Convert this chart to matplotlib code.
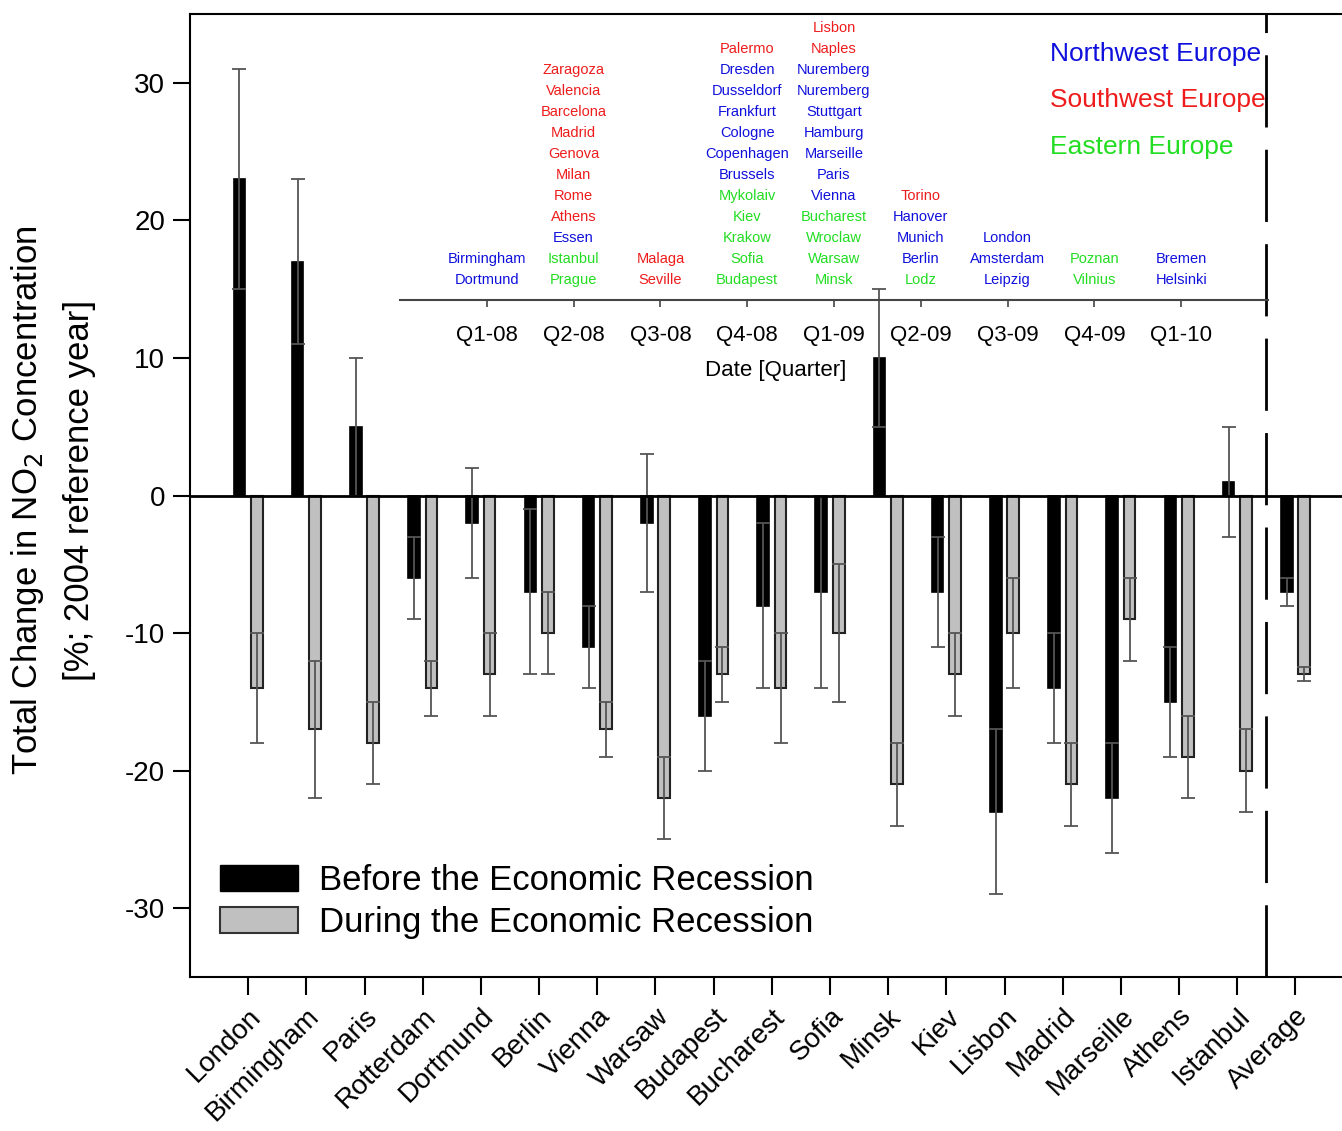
import numpy as np
import matplotlib.pyplot as plt
from matplotlib.patches import Patch

plt.rcParams['font.family'] = ['Liberation Sans', 'DejaVu Sans']
plt.rcParams['axes.unicode_minus'] = False

# === Data ===
cities = ["London", "Birmingham", "Paris", "Rotterdam", "Dortmund", "Berlin", "Vienna",
          "Warsaw", "Budapest", "Bucharest", "Sofia", "Minsk", "Kiev", "Lisbon", "Madrid",
          "Marseille", "Athens", "Istanbul", "Average"]
before = [23, 17, 5, -6, -2, -7, -11, -2, -16, -8, -7, 10, -7, -23, -14, -22, -15, 1, -7]
before_err = [8, 6, 5, 3, 4, 6, 3, 5, 4, 6, 7, 5, 4, 6, 4, 4, 4, 4, 1]
during = [-14, -17, -18, -14, -13, -10, -17, -22, -13, -14, -10, -21, -13, -10, -21, -9, -19, -20, -13]
during_err = [4, 5, 3, 2, 3, 3, 2, 3, 2, 4, 5, 3, 3, 4, 3, 3, 3, 3, 0.5]

quarters = ["Q1-08", "Q2-08", "Q3-08", "Q4-08", "Q1-09", "Q2-09", "Q3-09", "Q4-09", "Q1-10"]
# cities listed top to bottom, with region code: n = northwest, s = southwest, e = eastern
quarter_cities = [
    [("Birmingham", "n"), ("Dortmund", "n")],
    [("Zaragoza", "s"), ("Valencia", "s"), ("Barcelona", "s"), ("Madrid", "s"), ("Genova", "s"),
     ("Milan", "s"), ("Rome", "s"), ("Athens", "s"), ("Essen", "n"), ("Istanbul", "e"), ("Prague", "e")],
    [("Malaga", "s"), ("Seville", "s")],
    [("Palermo", "s"), ("Dresden", "n"), ("Dusseldorf", "n"), ("Frankfurt", "n"), ("Cologne", "n"),
     ("Copenhagen", "n"), ("Brussels", "n"), ("Mykolaiv", "e"), ("Kiev", "e"), ("Krakow", "e"),
     ("Sofia", "e"), ("Budapest", "e")],
    [("Lisbon", "s"), ("Naples", "s"), ("Nuremberg", "n"), ("Nuremberg", "n"), ("Stuttgart", "n"),
     ("Hamburg", "n"), ("Marseille", "n"), ("Paris", "n"), ("Vienna", "n"), ("Bucharest", "e"),
     ("Wroclaw", "e"), ("Warsaw", "e"), ("Minsk", "e")],
    [("Torino", "s"), ("Hanover", "n"), ("Munich", "n"), ("Berlin", "n"), ("Lodz", "e")],
    [("London", "n"), ("Amsterdam", "n"), ("Leipzig", "n")],
    [("Poznan", "e"), ("Vilnius", "e")],
    [("Bremen", "n"), ("Helsinki", "n")],
]
region_colors = {"n": "#1010dd", "s": "#ee1c1c", "e": "#22dd22"}
region_names = [("Northwest Europe", "n"), ("Southwest Europe", "s"), ("Eastern Europe", "e")]

# === Figure ===
fig = plt.figure(figsize=(13.42, 11.31), dpi=100)
ax = fig.add_axes([190 / 1342, 1 - 977 / 1131, 1 - 190 / 1342, (977 - 14) / 1131])

x = np.arange(len(cities))
w = 0.2
off = 0.15
ekw = dict(ecolor="#555555", elinewidth=1.3, capsize=5, capthick=1.3)
ax.bar(x - off, before, w, color="black", edgecolor="black", linewidth=1.2,
       yerr=before_err, error_kw=ekw, zorder=2)
ax.bar(x + off, during, w, color="#c0c0c0", edgecolor="#222222", linewidth=1.5,
       yerr=during_err, error_kw=ekw, zorder=2)

ax.axhline(0, color="black", lw=2, zorder=3)
ax.axvline(17.5, color="black", lw=2, dashes=(26, 8), zorder=3)

ax.set_xlim(-1, 18.8)
ax.set_ylim(-35, 35)
ax.set_yticks([-30, -20, -10, 0, 10, 20, 30])
ax.set_xticks(x)
ax.set_xticklabels(cities, rotation=45, ha="right", rotation_mode="anchor", fontsize=20)
ax.tick_params(axis="y", labelsize=20, length=12, width=1.5, direction="out", pad=6)
ax.tick_params(axis="x", length=13, width=1.5, direction="out", pad=6)
ax.spines["right"].set_visible(False)
for s in ["left", "top", "bottom"]:
    ax.spines[s].set_linewidth(1.5)

# y label as two lines
fig.text(28 / 1342, 1 - 500 / 1131, "Total Change in NO$_2$ Concentration", rotation=90,
         ha="center", va="center", fontsize=25)
fig.text(80 / 1342, 1 - 490 / 1131, "[%; 2004 reference year]", rotation=90,
         ha="center", va="center", fontsize=25)

# legend
handles = [Patch(facecolor="black", edgecolor="black", label="Before the Economic Recession"),
           Patch(facecolor="#c0c0c0", edgecolor="#333333", lw=1.5, label="During the Economic Recession")]
ax.legend(handles=handles, loc="lower left", bbox_to_anchor=(30 / 1152, 38 / 963), frameon=False,
          fontsize=25, handlelength=2.25, handleheight=0.78, handletextpad=0.6, labelspacing=0.25,
          borderpad=0, borderaxespad=0)

# region labels
for i, (name, code) in enumerate(region_names):
    fig.text(1050 / 1342, 1 - (54 + 46.5 * i) / 1131, name, color=region_colors[code],
             ha="left", va="center", fontsize=19)

# === Inset: quarter timeline ===
iax = fig.add_axes([400 / 1342, 1 - 300 / 1131, 868 / 1342, 277 / 1131])
iax.patch.set_alpha(0)
iax.set_xlim(-1, 9)
iax.set_ylim(0, 277 / 21)
for s in ["left", "right", "top"]:
    iax.spines[s].set_visible(False)
iax.spines["bottom"].set_color("#444444")
iax.spines["bottom"].set_linewidth(1.5)
iax.set_yticks([])
iax.set_xticks(np.arange(len(quarters)))
iax.set_xticklabels(quarters, fontsize=16)
iax.tick_params(axis="x", length=5, width=1.2, direction="out", pad=13, color="#444444")
iax.set_xlabel("Date [Quarter]", fontsize=16, labelpad=8)
iax.xaxis.set_label_coords(376 / 868, -0.215)

for qi, names in enumerate(quarter_cities):
    n = len(names)
    for k, (name, code) in enumerate(names):
        iax.text(qi, 0.95 + (n - 1 - k), name, color=region_colors[code],
                 ha="center", va="center", fontsize=10.5)

fig.savefig("out.png", dpi=100)
